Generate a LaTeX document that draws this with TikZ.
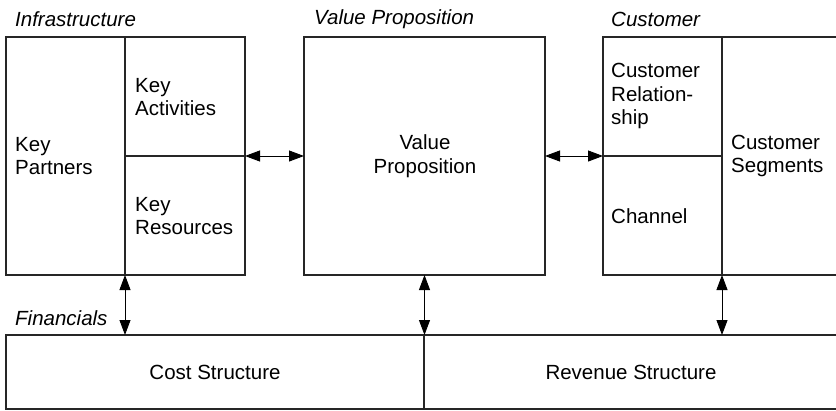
\documentclass[tikz,border=0pt]{standalone}
\usepackage{fontspec}
\setmainfont{Liberation Sans}
\usetikzlibrary{arrows.meta}
\begin{document}
\begin{tikzpicture}[x=1pt,y=-1pt,
  cell/.style={draw=black!85, line width=1.3pt, inner sep=0pt, outer sep=0pt, anchor=north west, rectangle},
  lbl/.style={font=\fontsize{20.5}{23.5}\selectfont, align=left, inner sep=0pt, anchor=west},
  clbl/.style={font=\fontsize{20.5}{23.5}\selectfont, align=center, inner sep=0pt},
  head/.style={font=\fontsize{20.5}{23}\selectfont\itshape, inner sep=0pt, anchor=west},
  link/.style={line width=0.9pt, {Triangle[length=15pt,width=11pt]}-{Triangle[length=15pt,width=11pt]}}]
\useasboundingbox (0,0) rectangle (836,410);
% boxes
\node[cell, minimum width=119, minimum height=238] (kp) at (6,37) {};
\node[cell, minimum width=120, minimum height=119] (ka) at (125,37) {};
\node[cell, minimum width=120, minimum height=119] (kr) at (125,156) {};
\node[cell, minimum width=241, minimum height=238] (vp) at (304,37) {};
\node[cell, minimum width=119, minimum height=119] (cr) at (603,37) {};
\node[cell, minimum width=119, minimum height=119] (ch) at (603,156) {};
\node[cell, minimum width=118, minimum height=238] (cs) at (722,37) {};
\node[cell, minimum width=418, minimum height=74] (cost) at (6,335) {};
\node[cell, minimum width=416, minimum height=74] (rev) at (424,335) {};
% headings
\node[head] (h1) at (15,19) {Infrastructure};
\node[head] (h2) at (314,19) {Value Proposition};
\node[head] (h3) at (611,19) {Customer};
\node[head] (h4) at (15,318) {Financials};
% labels
\node[lbl] (t1) at (15,156) {Key\\Partners};
\node[lbl] (t2) at (135,97) {Key\\Activities};
\node[lbl] (t3) at (135,216) {Key\\Resources};
\node[clbl] (t4) at (425,156) {Value\\Proposition};
\node[lbl, anchor=north west] (t5) at (611,63) {Customer\\Relation-\\ship};
\node[lbl] (t6) at (611,216) {Channel};
\node[lbl] (t7) at (731,156) {Customer\\Segments};
\node[clbl] (t8) at (215,372) {Cost Structure};
\node[clbl] (t9) at (631,372) {Revenue Structure};
% connectors
\draw[link] (ka.south east) -- (vp.west);
\draw[link] (vp.east) -- (cr.south west);
\draw[link] (kp.south east) -- (kp.south east |- cost.north);
\draw[link] (vp.south) -- (vp.south |- cost.north);
\draw[link] (ch.south east) -- (ch.south east |- rev.north);
\end{tikzpicture}
\end{document}
